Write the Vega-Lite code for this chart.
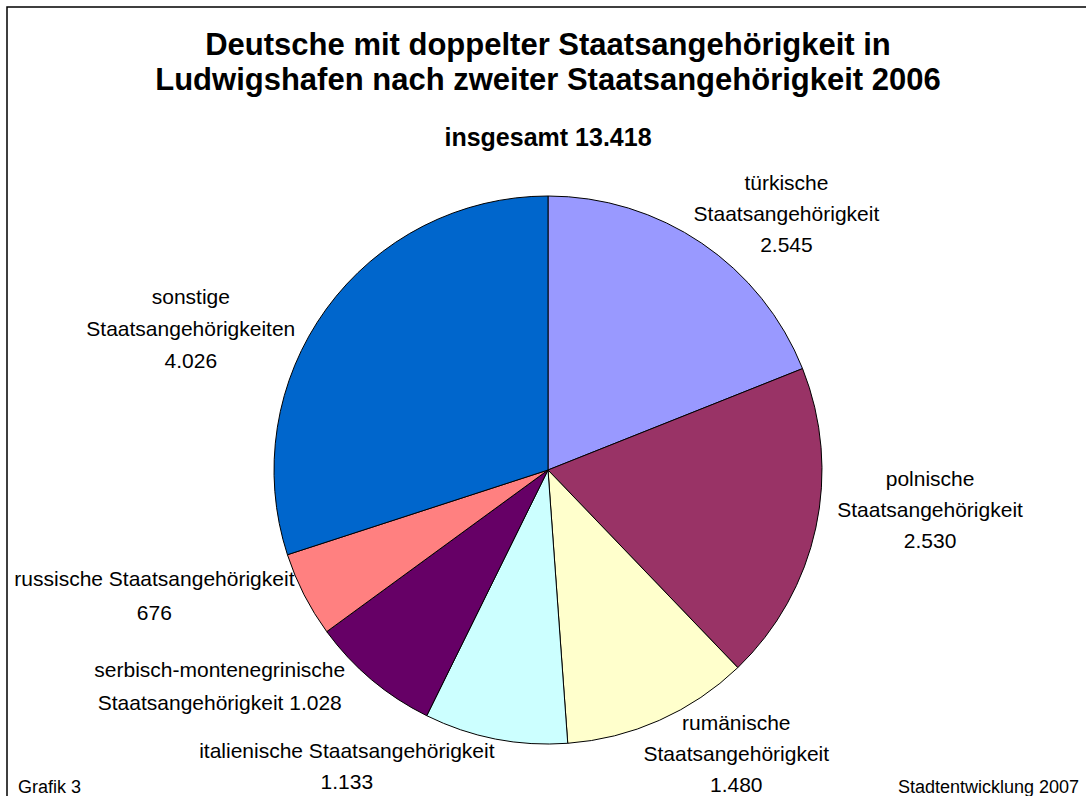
{
  "$schema": "https://vega.github.io/schema/vega-lite/v6.json",
  "width": 1082,
  "height": 926,
  "autosize": {"type": "none"},
  "padding": {"left": 7, "top": 7, "right": -3, "bottom": -137},
  "background": "white",
  "config": {
    "view": {"stroke": "black", "strokeWidth": 1.5},
    "font": "Liberation Sans",
    "text": {"font": "Liberation Sans"}
  },
  "title": {
    "text": ["Deutsche mit doppelter Staatsangehörigkeit in", "Ludwigshafen nach zweiter Staatsangehörigkeit 2006"],
    "subtitle": "insgesamt 13.418",
    "font": "Liberation Sans",
    "subtitleFont": "Liberation Sans",
    "fontSize": 31,
    "fontWeight": "bold",
    "lineHeight": 35,
    "color": "black",
    "subtitleFontSize": 25,
    "subtitleFontWeight": "bold",
    "subtitleColor": "black",
    "subtitlePadding": 29,
    "anchor": "middle",
    "frame": "group",
    "offset": -145
  },
  "data": {
    "values": [
      {"nr": 1, "name": "türkische", "value": 2545, "label": ["türkische", "Staatsangehörigkeit", "2.545"]},
      {"nr": 2, "name": "polnische", "value": 2530, "label": ["polnische", "Staatsangehörigkeit", "2.530"]},
      {"nr": 3, "name": "rumänische", "value": 1480, "label": ["rumänische", "Staatsangehörigkeit", "1.480"]},
      {"nr": 4, "name": "italienische", "value": 1133, "label": ["italienische Staatsangehörigkeit", "1.133"]},
      {"nr": 5, "name": "serbisch-montenegrinische", "value": 1028, "label": ["serbisch-montenegrinische", "Staatsangehörigkeit  1.028"]},
      {"nr": 6, "name": "russische", "value": 676, "label": ["russische Staatsangehörigkeit", "676"]},
      {"nr": 7, "name": "sonstige", "value": 4026, "label": ["sonstige", "Staatsangehörigkeiten", "4.026"]}
    ]
  },
  "layer": [
    {
      "mark": {"type": "arc", "radius": 274, "stroke": "black", "strokeWidth": 1},
      "encoding": {
        "theta": {"field": "value", "type": "quantitative", "stack": true},
        "order": {"field": "nr", "type": "quantitative"},
        "color": {
          "field": "name", "type": "nominal", "legend": null,
          "scale": {
            "domain": ["türkische", "polnische", "rumänische", "italienische", "serbisch-montenegrinische", "russische", "sonstige"],
            "range": ["#9999FF", "#993366", "#FFFFCC", "#CCFFFF", "#660066", "#FF8080", "#0066CC"]
          }
        }
      }
    },
    {
      "mark": {"type": "text", "radius": 350, "dx": 42, "dy": 4, "fontSize": 21, "lineHeight": 31, "align": "center", "baseline": "middle", "color": "black"},
      "encoding": {
        "theta": {"field": "value", "type": "quantitative", "stack": true},
        "order": {"field": "nr", "type": "quantitative"},
        "detail": {"field": "name"},
        "text": {"condition": {"test": "datum.name === 'türkische'", "field": "label"}, "value": ""}
      }
    },
    {
      "mark": {"type": "text", "radius": 350, "dx": 40, "dy": -64, "fontSize": 21, "lineHeight": 31, "align": "center", "baseline": "middle", "color": "black"},
      "encoding": {
        "theta": {"field": "value", "type": "quantitative", "stack": true},
        "order": {"field": "nr", "type": "quantitative"},
        "detail": {"field": "name"},
        "text": {"condition": {"test": "datum.name === 'polnische'", "field": "label"}, "value": ""}
      }
    },
    {
      "mark": {"type": "text", "radius": 350, "dx": 46, "dy": -66, "fontSize": 21, "lineHeight": 31, "align": "center", "baseline": "middle", "color": "black"},
      "encoding": {
        "theta": {"field": "value", "type": "quantitative", "stack": true},
        "order": {"field": "nr", "type": "quantitative"},
        "detail": {"field": "name"},
        "text": {"condition": {"test": "datum.name === 'rumänische'", "field": "label"}, "value": ""}
      }
    },
    {
      "mark": {"type": "text", "radius": 350, "dx": -134, "dy": -61, "fontSize": 21, "lineHeight": 31, "align": "center", "baseline": "middle", "color": "black"},
      "encoding": {
        "theta": {"field": "value", "type": "quantitative", "stack": true},
        "order": {"field": "nr", "type": "quantitative"},
        "detail": {"field": "name"},
        "text": {"condition": {"test": "datum.name === 'italienische'", "field": "label"}, "value": ""}
      }
    },
    {
      "mark": {"type": "text", "radius": 350, "dx": -103, "dy": -67, "fontSize": 21, "lineHeight": 33, "align": "center", "baseline": "middle", "color": "black"},
      "encoding": {
        "theta": {"field": "value", "type": "quantitative", "stack": true},
        "order": {"field": "nr", "type": "quantitative"},
        "detail": {"field": "name"},
        "text": {"condition": {"test": "datum.name === 'serbisch-montenegrinische'", "field": "label"}, "value": ""}
      }
    },
    {
      "mark": {"type": "text", "radius": 350, "dx": -82, "dy": -49, "fontSize": 21, "lineHeight": 34, "align": "center", "baseline": "middle", "color": "black"},
      "encoding": {
        "theta": {"field": "value", "type": "quantitative", "stack": true},
        "order": {"field": "nr", "type": "quantitative"},
        "detail": {"field": "name"},
        "text": {"condition": {"test": "datum.name === 'russische'", "field": "label"}, "value": ""}
      }
    },
    {
      "mark": {"type": "text", "radius": 350, "dx": -74, "dy": 34, "fontSize": 21, "lineHeight": 32, "align": "center", "baseline": "middle", "color": "black"},
      "encoding": {
        "theta": {"field": "value", "type": "quantitative", "stack": true},
        "order": {"field": "nr", "type": "quantitative"},
        "detail": {"field": "name"},
        "text": {"condition": {"test": "datum.name === 'sonstige'", "field": "label"}, "value": ""}
      }
    },
    {
      "data": {"values": [{"footer": "Grafik 3"}]},
      "mark": {"type": "text", "fontSize": 18, "align": "left", "baseline": "alphabetic", "color": "black"},
      "encoding": {
        "x": {"value": 11},
        "y": {"value": 786},
        "text": {"field": "footer"}
      }
    },
    {
      "data": {"values": [{"footer": "Stadtentwicklung  2007"}]},
      "mark": {"type": "text", "fontSize": 18, "align": "right", "baseline": "alphabetic", "color": "black"},
      "encoding": {
        "x": {"value": 1072},
        "y": {"value": 786},
        "text": {"field": "footer"}
      }
    }
  ]
}
